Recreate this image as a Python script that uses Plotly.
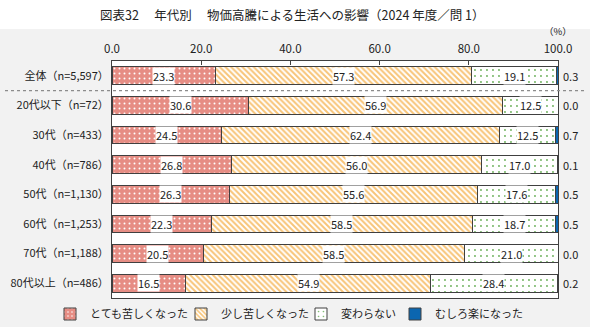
import plotly.graph_objects as go

# Survey breakdown by age group (percent)
categories = [
    "全体（n=5,597）",
    "20代以下（n=72）",
    "30代（n=433）",
    "40代（n=786）",
    "50代（n=1,130）",
    "60代（n=1,253）",
    "70代（n=1,188）",
    "80代以上（n=486）",
]
series_names = ["とても苦しくなった", "少し苦しくなった", "変わらない", "むしろ楽になった"]
very_hard = [23.3, 30.6, 24.5, 26.8, 26.3, 22.3, 20.5, 16.5]
bit_hard = [57.3, 56.9, 62.4, 56.0, 55.6, 58.5, 58.5, 54.9]
no_change = [19.1, 12.5, 12.5, 17.0, 17.6, 18.7, 21.0, 28.4]
easier = [0.3, 0.0, 0.7, 0.1, 0.5, 0.5, 0.0, 0.2]
tick_vals = [0, 20, 40, 60, 80, 100]
tick_text = ["0.0", "20.0", "40.0", "60.0", "80.0", "100.0"]

FONT = "Noto Sans CJK JP"
W, H = 590, 327
ML, MR, MT, MB = 112, 32, 61, 29
PW, PH = W - ML - MR, H - MT - MB

values = [very_hard, bit_hard, no_change, easier]
patterns = [
    dict(shape=".", bgcolor="#e68d84", fgcolor="#ffffff", size=5, solidity=0.12, fillmode="replace"),
    dict(shape="\\", bgcolor="#ffffff", fgcolor="#f8c477", size=4, solidity=0.5, fillmode="replace"),
    dict(shape=".", bgcolor="#ffffff", fgcolor="#6bb05a", size=6, solidity=0.08, fillmode="replace"),
    dict(shape="", fillmode="replace"),
]
base_colors = ["#e68d84", "#f8c477", "#ffffff", "#0b66b0"]
legend_ids = ["legend", "legend2", "legend3", "legend4"]
# left edge of each legend entry, in pixels from the page's left edge
legend_left = [50, 181, 301, 395]

fig = go.Figure()
for i, (name, vals) in enumerate(zip(series_names, values)):
    fig.add_trace(go.Bar(
        y=categories, x=vals, name=name, orientation="h",
        legend=legend_ids[i],
        marker=dict(color=base_colors[i], pattern=patterns[i],
                    line=dict(color="#404040", width=1)),
        hoverinfo="skip",
    ))

label_font = dict(family=FONT, size=11, color="#222222")
annotations = []
for ci, cat in enumerate(categories):
    # value labels centred in the first three segments, on white boxes
    left = 0.0
    for si in range(3):
        v = values[si][ci]
        annotations.append(dict(
            x=left + v / 2, y=cat, xref="x", yref="y",
            text=f"{v:.1f}", showarrow=False, font=label_font,
            bgcolor="#ffffff", borderpad=0,
        ))
        left += v
    # the small last segment is labelled just right of the plot
    annotations.append(dict(
        x=100, y=cat, xref="x", yref="y", xanchor="left", xshift=3,
        text=f"{easier[ci]:.1f}", showarrow=False, font=label_font,
    ))

annotations.append(dict(
    x=1.0, y=1 + (MT - 31) / PH, xref="paper", yref="paper",
    text="（%）", showarrow=False, xanchor="center", yanchor="middle",
    font=dict(family=FONT, size=9.5, color="#222222"),
))
annotations.append(dict(
    x=(292 - ML) / PW, y=1 + (MT - 15) / PH, xref="paper", yref="paper",
    text="図表32　 年代別　 物価高騰による生活への影響（2024 年度／問 1）",
    showarrow=False, xanchor="center", yanchor="middle",
    font=dict(family=FONT, size=12.5, color="#222222"),
))

shapes = [
    # white title band
    dict(type="rect", xref="paper", yref="paper",
         x0=-ML / PW, x1=1 + MR / PW, y0=1 + (MT - 29) / PH, y1=1 + MT / PH,
         fillcolor="#ffffff", line=dict(width=0), layer="below"),
    # separator between total and age groups
    dict(type="line", xref="paper", yref="y",
         x0=-107 / PW, x1=1 + 27 / PW, y0=0.5, y1=0.5,
         line=dict(color="#8c8c8c", width=1.2, dash="dot")),
]

legend_common = dict(
    orientation="h", xanchor="left", y=-16 / PH, yanchor="middle",
    font=dict(family=FONT, size=11, color="#222222"),
    bgcolor="rgba(0,0,0,0)", itemwidth=30,
)
legends = {
    lid: dict(legend_common, x=(lx - ML) / PW)
    for lid, lx in zip(legend_ids, legend_left)
}

fig.update_layout(
    width=W, height=H,
    margin=dict(l=ML, r=MR, t=MT, b=MB, autoexpand=False),
    barmode="stack", bargap=0.4,
    paper_bgcolor="#f2f2f2", plot_bgcolor="#ffffff",
    font=dict(family=FONT, size=11, color="#222222"),
    xaxis=dict(
        side="top", range=[0, 100], tickvals=tick_vals, ticktext=tick_text,
        ticks="inside", ticklen=4, tickcolor="#404040", ticklabelstandoff=2,
        showgrid=False, zeroline=False, automargin=False,
        showline=True, linecolor="#404040", linewidth=1, mirror=True,
        tickfont=dict(family=FONT, size=11.5, color="#222222"),
        fixedrange=True,
    ),
    yaxis=dict(
        autorange="reversed", showgrid=False, zeroline=False, automargin=False,
        showline=True, linecolor="#404040", linewidth=1, mirror=True,
        ticks="", ticklabelstandoff=0,
        tickfont=dict(family=FONT, size=11, color="#222222"),
        fixedrange=True,
    ),
    annotations=annotations,
    shapes=shapes,
    showlegend=True,
    **legends,
)

fig.write_html("out.html")
